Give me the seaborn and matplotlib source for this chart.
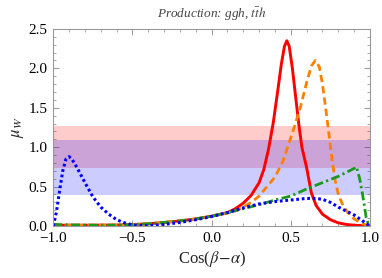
import pandas as pd
import seaborn as sns
import matplotlib.pyplot as plt
from matplotlib.ticker import MultipleLocator

# curves (x = cos(beta-alpha), y = mu_W)
red_x = [-1.0, -0.8, -0.6, -0.5, -0.4, -0.3, -0.2, -0.1, 0.0, 0.1, 0.15, 0.2, 0.25, 0.3, 0.33,
         0.36, 0.39, 0.42, 0.44, 0.46, 0.475, 0.49, 0.51, 0.53, 0.55, 0.57, 0.6, 0.63, 0.66,
         0.7, 0.75, 0.8, 0.85, 0.9, 0.95, 1.0]
red_y = [0.01, 0.01, 0.012, 0.018, 0.028, 0.045, 0.065, 0.09, 0.125, 0.17, 0.22, 0.29, 0.39,
         0.55, 0.72, 0.98, 1.32, 1.75, 2.05, 2.28, 2.35, 2.28, 2.0, 1.65, 1.3, 1.0, 0.74,
         0.42, 0.26, 0.15, 0.08, 0.04, 0.02, 0.01, 0.005, 0.0]

orange_x = [-1.0, -0.8, -0.6, -0.5, -0.4, -0.3, -0.2, -0.1, 0.0, 0.1, 0.15, 0.2, 0.25, 0.3,
            0.35, 0.4, 0.45, 0.48, 0.52, 0.56, 0.6, 0.63, 0.655, 0.68, 0.7, 0.72, 0.74, 0.76,
            0.78, 0.8, 0.83, 0.86, 0.9, 0.95, 1.0]
orange_y = [0.01, 0.01, 0.012, 0.018, 0.028, 0.045, 0.065, 0.09, 0.125, 0.165, 0.19, 0.24,
            0.3, 0.38, 0.5, 0.62, 0.82, 1.0, 1.24, 1.5, 1.82, 2.03, 2.1, 2.02, 1.8, 1.5, 1.18,
            0.85, 0.58, 0.4, 0.26, 0.17, 0.09, 0.03, 0.0]

green_x = [-1.0, -0.9, -0.8, -0.7, -0.6, -0.5, -0.4, -0.3, -0.2, -0.1, 0.0, 0.1, 0.2, 0.3,
           0.4, 0.5, 0.6, 0.7, 0.8, 0.85, 0.9, 0.915, 0.935, 0.955, 0.975, 0.99, 1.0]
green_y = [0.02, 0.015, 0.012, 0.01, 0.012, 0.018, 0.028, 0.045, 0.065, 0.09, 0.125, 0.17,
           0.22, 0.27, 0.33, 0.38, 0.47, 0.55, 0.63, 0.68, 0.73, 0.75, 0.6, 0.38, 0.12,
           0.02, 0.0]

blue_x = [-1.0, -0.98, -0.96, -0.94, -0.92, -0.9, -0.88, -0.85, -0.8, -0.75, -0.7, -0.65,
          -0.6, -0.55, -0.5, -0.45, -0.4, -0.3, -0.2, -0.1, 0.0, 0.1, 0.2, 0.3, 0.4, 0.5,
          0.6, 0.65, 0.7, 0.75, 0.8, 0.85, 0.9, 0.95, 1.0]
blue_y = [0.0, 0.18, 0.45, 0.7, 0.85, 0.88, 0.84, 0.74, 0.55, 0.37, 0.24, 0.15, 0.08, 0.04,
          0.015, 0.005, 0.005, 0.02, 0.045, 0.08, 0.12, 0.17, 0.23, 0.28, 0.31, 0.33, 0.35,
          0.35, 0.34, 0.3, 0.24, 0.19, 0.14, 0.07, 0.0]

# measured bands
red_band = (0.74, 1.27)
blue_band = (0.39, 1.09)

sns.set_theme(style="ticks")
plt.rcParams['font.family'] = ['Liberation Serif', 'DejaVu Serif']
plt.rcParams['mathtext.fontset'] = 'stix'

fig = plt.figure(figsize=(3.82, 2.78), dpi=100)
ax = fig.add_axes([0.1395, 0.187, 0.829, 0.709])

ax.axhspan(*red_band, color=(1, 0, 0), alpha=0.2, lw=0)
ax.axhspan(*blue_band, color=(0, 0, 1), alpha=0.2, lw=0)

sns.lineplot(x=red_x, y=red_y, ax=ax, color=(1, 0, 0), lw=2.1, sort=False)
sns.lineplot(x=orange_x, y=orange_y, ax=ax, color=(1, 0.5, 0), lw=2.0, sort=False,
             linestyle=(0, (2.6, 1.5)))
sns.lineplot(x=green_x, y=green_y, ax=ax, color=(0.1, 0.6, 0.1), lw=2.0, sort=False,
             linestyle=(0, (3.2, 1.2, 0.8, 1.2)))
sns.lineplot(x=blue_x, y=blue_y, ax=ax, color=(0, 0, 1), lw=2.2, sort=False,
             linestyle=(0, (0.9, 0.9)))

ax.set_xlim(-1, 1)
ax.set_ylim(0, 2.5)
ax.xaxis.set_major_locator(MultipleLocator(0.5))
ax.xaxis.set_minor_locator(MultipleLocator(0.1))
ax.yaxis.set_major_locator(MultipleLocator(0.5))
ax.yaxis.set_minor_locator(MultipleLocator(0.1))
ax.xaxis.set_major_formatter(lambda v, p: f"{v:.1f}".replace("-", "\u2212"))
ax.yaxis.set_major_formatter(lambda v, p: f"{v:.1f}")

for s in ax.spines.values():
    s.set_color('#999999')
    s.set_linewidth(0.8)
ax.tick_params(which='both', direction='in', top=True, right=True, color='#999999',
               labelsize=11, labelcolor='black')
ax.tick_params(axis='x', pad=4.5)
ax.tick_params(axis='y', pad=4)
ax.tick_params(which='major', length=4, width=0.7)
ax.tick_params(which='minor', length=2, width=0.6)

ax.set_xlabel(r"Cos($\beta\!-\!\alpha$)", fontsize=12, labelpad=3)
ax.set_ylabel(r"$\mu_W$", fontsize=12, labelpad=2)
ax.set_title(r"Production: ggh, $t\bar{t}h$", fontsize=9.5, style='italic', color='#444444',
             pad=8)

fig.savefig("out.png", dpi=100)
